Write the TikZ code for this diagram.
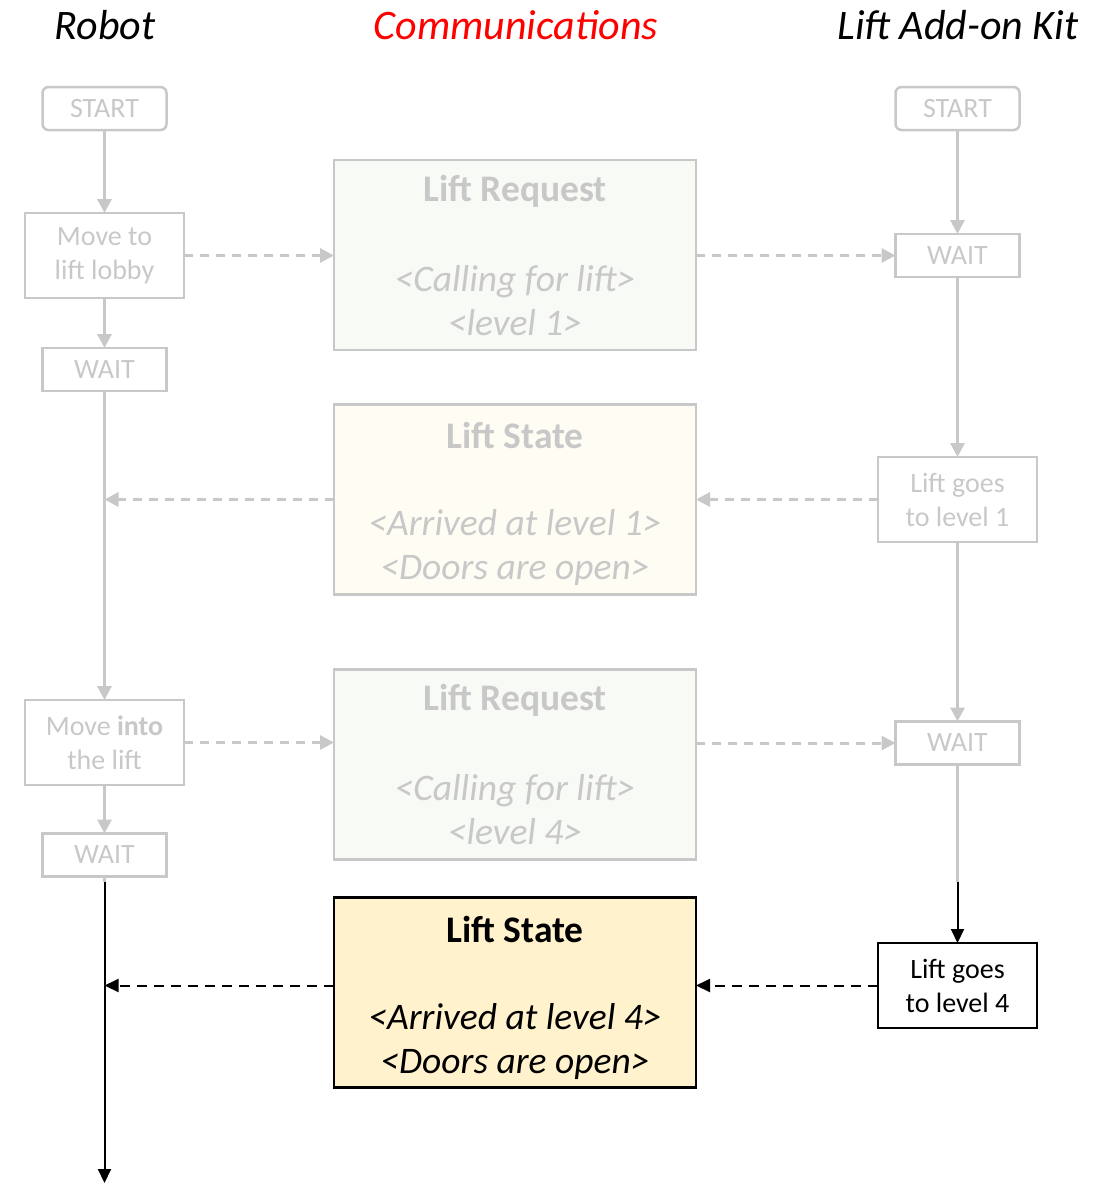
\documentclass[tikz,border=0pt]{standalone}
\usepackage{fontspec}
\setmainfont{Carlito}
\usetikzlibrary{arrows.meta}
\definecolor{fadegray}{RGB}{200,200,200}
\definecolor{reqfill}{RGB}{248,250,245}
\definecolor{statefill}{RGB}{255,252,243}
\definecolor{activefill}{RGB}{255,242,204}
\definecolor{headred}{RGB}{255,0,0}

\begin{document}
\begin{tikzpicture}[x=1pt,y=-1pt,
  every node/.style={inner sep=0pt, outer sep=0pt},
  head/.style={font=\fontsize{42}{50}\selectfont\itshape},
  stepbox/.style={line width=2.5pt, align=center, minimum height=43pt,
    minimum width=124pt, font=\fontsize{28}{34}\selectfont},
  tallbox/.style={stepbox, minimum height=85pt, minimum width=159pt},
  msgbox/.style={line width=2.5pt, minimum width=362pt, minimum height=190pt},
  title/.style={font=\fontsize{37.5}{44}\selectfont\bfseries},
  body/.style={align=center, font=\fontsize{37.5}{44}\selectfont\itshape},
  faded/.style={draw=fadegray, text=fadegray},
  active/.style={draw=black, text=black},
  flow/.style={line width=3pt, draw=fadegray,
    -{Triangle[length=14pt,width=14pt]}},
  flowon/.style={line width=2pt, draw=black,
    -{Triangle[length=14pt,width=13pt]}},
  msg/.style={flow, dash pattern=on 9pt off 7pt},
  msgon/.style={flowon, dash pattern=on 10pt off 7pt},
]
\useasboundingbox (0,0) rectangle (1099,1184);

% column headings
\node[head] (hrobot) at (105,25) {Robot};
\node[head, text=headred] (hcomm) at (516,25) {Communications};
\node[head] (hkit) at (958,25) {Lift Add-on Kit};

% robot column
\node[stepbox, faded, rounded corners=6pt] (lstart) at (104.5,108.5) {START};
\node[tallbox, faded] (lobby) at (104.5,255.5) {Move to\\lift lobby};
\node[stepbox, faded] (lwait1) at (104.5,369.5) {WAIT};
\node[tallbox, faded] (into) at (104.5,742.5) {Move \textbf{into}\\the lift};
\node[stepbox, faded] (lwait2) at (104.5,855) {WAIT};

% lift add-on kit column
\node[stepbox, faded, rounded corners=6pt] (rstart) at (957.5,108.5) {START};
\node[stepbox, faded] (rwait1) at (957.5,255.5) {WAIT};
\node[tallbox, faded] (goes1) at (957.5,499.5) {Lift goes\\to level 1};
\node[stepbox, faded] (rwait2) at (957.5,743) {WAIT};
\node[tallbox, active, fill=white] (goes4) at (957.5,985.5) {Lift goes\\to level 4};

% messages
\node[msgbox, faded, fill=reqfill] (req1) at (515,255) {};
\node[title, text=fadegray] (req1t) at (515,191) {Lift Request};
\node[body, text=fadegray] (req1b) at (515,301) {<Calling for lift>\\<level 1>};

\node[msgbox, faded, fill=statefill] (state1) at (515,499.5) {};
\node[title, text=fadegray] (state1t) at (515,435) {Lift State};
\node[body, text=fadegray] (state1b) at (515,547) {<Arrived at level 1>\\<Doors are open>};

\node[msgbox, faded, fill=reqfill] (req4) at (515,764.5) {};
\node[title, text=fadegray] (req4t) at (515,700) {Lift Request};
\node[body, text=fadegray] (req4b) at (515,810) {<Calling for lift>\\<level 4>};

\node[msgbox, active, fill=activefill] (state4) at (515,992.5) {};
\node[title] (state4t) at (515,929) {Lift State};
\node[body] (state4b) at (515,1041) {<Arrived at level 4>\\<Doors are open>};

% junction points on the vertical flows
\coordinate (ljoin1) at (lwait1.south |- state1.west);
\coordinate (lsplit) at (104.5,882);
\coordinate (ljoin4) at (lwait1.south |- state4.west);
\coordinate (lend) at (104.5,1183);
\coordinate (rsplit) at (957.5,882);

% robot flow
\draw[flow] (lstart) -- (lobby);
\draw[flow] (lobby) -- (lwait1);
\draw[flow] (lwait1) -- (into);
\draw[flow] (into) -- (lwait2);
\draw[line width=3pt, draw=fadegray] (lwait2.south) -- (lsplit);
\draw[flowon] (lsplit) -- (lend);

% kit flow
\draw[flow] (rstart) -- (rwait1);
\draw[flow] (rwait1) -- (goes1);
\draw[flow] (goes1) -- (rwait2);
\draw[line width=3pt, draw=fadegray] (rwait2.south) -- (rsplit);
\draw[flowon] (rsplit) -- (goes4);

% message exchange
\draw[msg] (lobby.east) -- (lobby.east -| req1.west);
\draw[msg] (req1.east |- rwait1.west) -- (rwait1.west);
\draw[msg] (goes1.west) -- (goes1.west -| state1.east);
\draw[msg] (state1.west) -- (ljoin1);
\draw[msg] (into.east) -- (into.east -| req4.west);
\draw[msg] (req4.east |- rwait2.west) -- (rwait2.west);
\draw[msgon] (goes4.west) -- (goes4.west -| state4.east);
\draw[msgon] (state4.west |- goes4.west) -- (ljoin4 |- goes4.west);
\end{tikzpicture}
\end{document}
